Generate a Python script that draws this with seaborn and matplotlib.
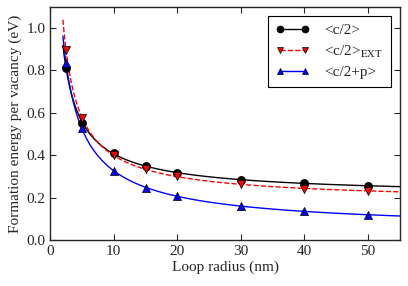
import numpy as np
import pandas as pd
import matplotlib
matplotlib.use("Agg")
import matplotlib.pyplot as plt
from matplotlib.lines import Line2D
import seaborn as sns

# loop radius (nm)
radius = [2.5, 5, 10, 15, 20, 30, 40, 50]
# formation energy per vacancy (eV)
e_c2 = [0.81, 0.553, 0.412, 0.349, 0.317, 0.283, 0.267, 0.255]
e_c2_ext = [0.895, 0.574, 0.400, 0.335, 0.302, 0.263, 0.240, 0.230]
e_c2p = [0.833, 0.527, 0.324, 0.247, 0.206, 0.160, 0.137, 0.118]

labels = ["<c/2>", "<c/2>$_{\\mathrm{EXT}}$", "<c/2+p>"]
colors = ["black", "red", "blue"]
markers = ["o", "v", "^"]
dashes = ["-", "--", "-"]

sns.set_style("ticks")
plt.rcParams["font.family"] = ["Liberation Serif", "DejaVu Serif"]
plt.rcParams["mathtext.fontset"] = "stix"
plt.rcParams["xtick.direction"] = "in"
plt.rcParams["ytick.direction"] = "in"

fig = plt.figure(figsize=(4.08, 2.86), dpi=100)
ax = fig.add_axes([0.123, 0.161, 0.857, 0.815])


def fit_curve(x, y, xs):
    # E = a + b/R + c ln(R)/R  fitted to the points
    x = np.asarray(x, float)
    A = np.column_stack([np.ones_like(x), 1 / x, np.log(x) / x])
    coef, *_ = np.linalg.lstsq(A, np.asarray(y, float), rcond=None)
    return coef[0] + coef[1] / xs + coef[2] * np.log(xs) / xs


xs = np.linspace(2.0, 55, 300)
handles = []
for y, lab, c, m, ls in zip([e_c2, e_c2_ext, e_c2p], labels, colors, markers, dashes):
    curve = pd.DataFrame({"x": xs, "y": fit_curve(radius, y, xs)})
    sns.lineplot(data=curve, x="x", y="y", color=c, linestyle=ls, lw=1.0, ax=ax)
    pts = pd.DataFrame({"x": radius, "y": y})
    sns.scatterplot(data=pts, x="x", y="y", color=c, marker=m, s=34,
                    edgecolor="black", linewidth=0.5, ax=ax, zorder=3)
    handles.append(Line2D([], [], color=c, linestyle=ls, marker=m, markersize=5,
                          markeredgecolor="black", markeredgewidth=0.5, lw=1.0))

ax.set_xlim(0, 55)
ax.set_ylim(0, 1.1)
ax.set_xticks([0, 10, 20, 30, 40, 50])
ax.set_yticks([0.0, 0.2, 0.4, 0.6, 0.8, 1.0])
ax.tick_params(top=True, right=True, labelsize=11, length=4)
for sp in ax.spines.values():
    sp.set_linewidth(1.0)
ax.set_xlabel("Loop radius (nm)", fontsize=11, labelpad=2)
ax.set_ylabel("Formation energy per vacancy (eV)", fontsize=11, labelpad=3)

leg = ax.legend(handles, labels, loc="upper right", numpoints=2, fontsize=11,
                frameon=True, fancybox=False, edgecolor="black",
                borderaxespad=0.6, handlelength=2.2, labelspacing=0.4,
                borderpad=0.5, handletextpad=1.0)
leg.get_frame().set_linewidth(0.8)
leg.get_frame().set_alpha(1)

fig.savefig("out.png", dpi=100)
